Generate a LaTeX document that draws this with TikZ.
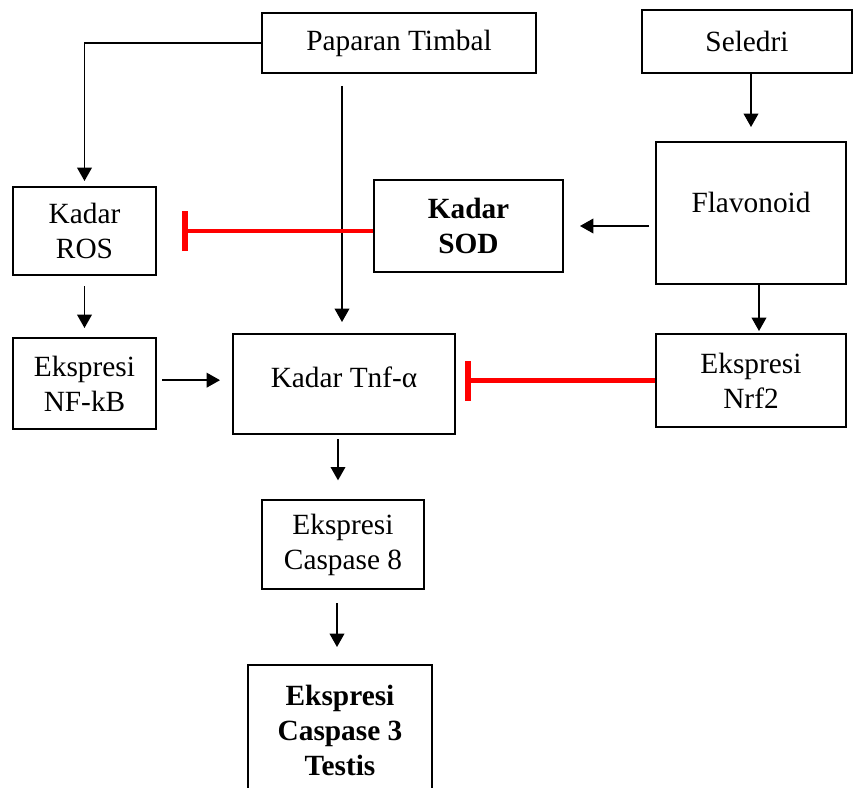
\documentclass[tikz,border=0pt]{standalone}
\usepackage{fontspec}
\setmainfont{Liberation Serif}
\usetikzlibrary{arrows.meta,calc}
\begin{document}
\begin{tikzpicture}[x=0.75pt,y=-0.75pt,
  box/.style={draw,line width=1.5pt,inner sep=0pt,align=center},
  txt/.style={inner sep=0pt,align=center},
  arr/.style={line width=1.1pt,-{Triangle[width=11pt,length=10pt]}},
  inh/.style={draw=red,line width=3.2pt,-{Bar[width=30pt,line width=4.2pt]}},
  font=\fontsize{22pt}{26.25pt}\selectfont]
\useasboundingbox (0,0) rectangle (853,788);
% boxes
\node[box,minimum width=205.5pt,minimum height=45pt] (pap) at (399,43) {Paparan Timbal};
\node[box,minimum width=157.5pt,minimum height=47.25pt] (sel) at (747,41.5) {Seledri};
\node[box,minimum width=142.5pt,minimum height=106.5pt] (flav) at (751,213) {};
\node[txt] (flavt) at (751,202) {Flavonoid};
\node[box,minimum width=141.75pt,minimum height=69pt,font=\fontsize{22pt}{26.25pt}\selectfont\bfseries] (sod) at (468.5,226) {Kadar\\SOD};
\node[box,minimum width=107.25pt,minimum height=66pt] (ros) at (84.5,231) {Kadar\\ROS};
\node[box,minimum width=107.25pt,minimum height=68.25pt] (nfkb) at (84.5,383.5) {Ekspresi\\NF-kB};
\node[box,minimum width=166.5pt,minimum height=75pt] (tnf) at (344,384) {};
\node[txt] (tnft) at (344,377) {Kadar Tnf-α};
\node[box,minimum width=142.5pt,minimum height=69.75pt] (nrf) at (751,380.5) {Ekspresi\\Nrf2};
\node[box,minimum width=121.5pt,minimum height=66.75pt] (c8) at (343,544.5) {Ekspresi\\Caspase 8};
\node[box,minimum width=138pt,minimum height=105pt] (c3) at (340,735) {};
\node[txt,font=\fontsize{22pt}{26.25pt}\selectfont\bfseries] (c3t) at (340,730) {Ekspresi\\Caspase 3\\Testis};
% connectors
\draw[arr,shorten >=3.75pt] (pap.west) -| (ros.north);
\draw[arr,shorten <=9pt,shorten >=8.25pt] ([xshift=-1.5pt]tnf.north |- pap.south) -- ([xshift=-1.5pt]tnf.north);
\draw[arr,shorten >=10.5pt] (flav.north |- sel.south) -- (flav.north);
\draw[arr,shorten <=4.5pt,shorten >=12pt] (sod.east -| flav.west) -- (sod.east);
\draw[inh,shorten >=18.75pt] (ros.east -| sod.west) -- (ros.east);
\draw[arr,shorten <=7.5pt,shorten >=6.75pt] (ros.south) -- (nfkb.north);
\draw[arr,shorten <=3.75pt,shorten >=9pt] ([yshift=2.5pt]nfkb.east) -- ([yshift=2.5pt]nfkb.east -| tnf.west);
\draw[arr,shorten >=1.5pt] ([xshift=6pt]flav.south) -- ([xshift=6pt]nrf.north);
\draw[inh,shorten >=6.75pt] (nrf.west) -- (nrf.west -| tnf.east);
\draw[arr,shorten <=3pt,shorten >=14pt] ([xshift=-4.5pt]tnf.south) -- ([xshift=-4.5pt]tnf.south |- c8.north);
\draw[arr,shorten <=9.75pt,shorten >=12.75pt] ([xshift=-4.5pt]c8.south) -- ([xshift=-4.5pt]c8.south |- c3.north);
\end{tikzpicture}
\end{document}
